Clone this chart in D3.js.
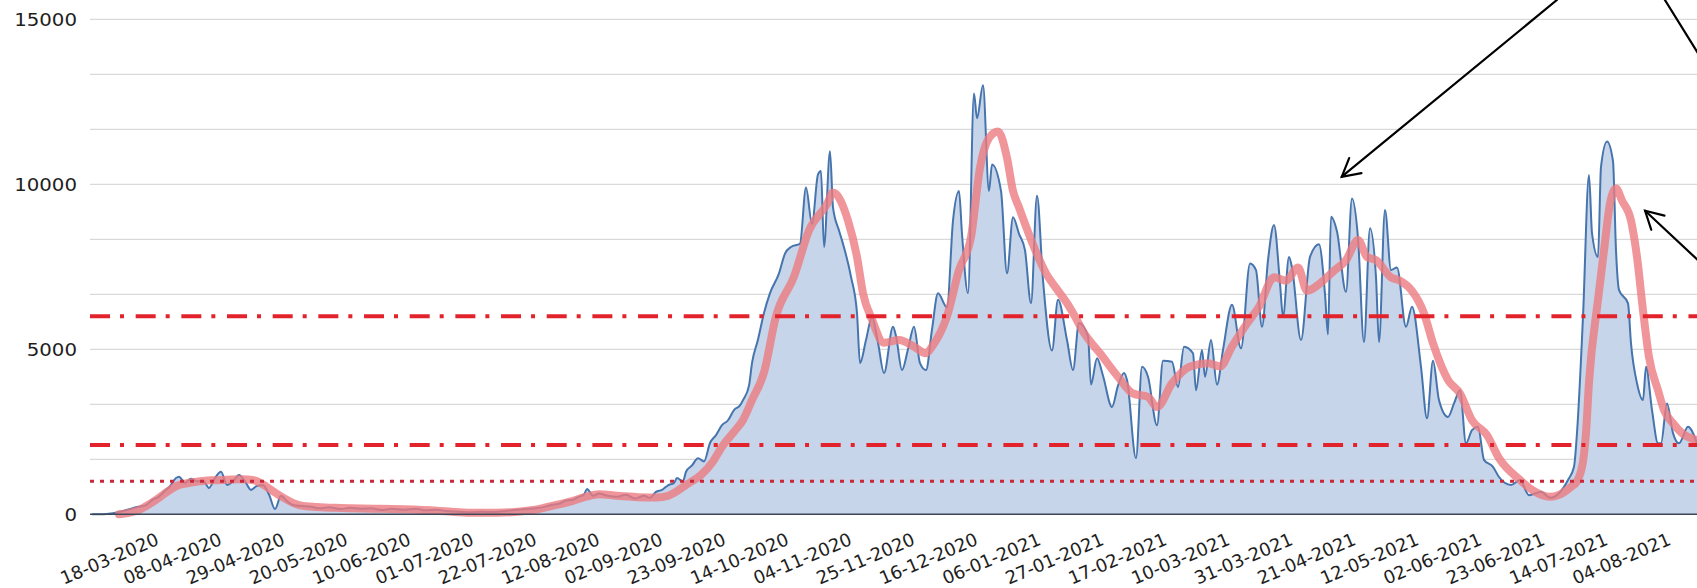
<!DOCTYPE html>
<html>
<head>
<meta charset="utf-8">
<script src="https://cdn.jsdelivr.net/npm/d3@7"></script>
<style>
  html, body { margin: 0; padding: 0; background: #ffffff; overflow: hidden; }
  svg { display: block; }
</style>
</head>
<body>
<svg id="chart" width="1697" height="588"></svg>
<script>
// ---------------- DATA ----------------
const startDate = "2020-02-27";          // day 0 of the series
const endDay = 535;                       // last visible day (right edge)

// x-axis tick labels (every 21 days)
const tickLabels = ["18-03-2020","08-04-2020","29-04-2020","20-05-2020","10-06-2020","01-07-2020",
  "22-07-2020","12-08-2020","02-09-2020","23-09-2020","14-10-2020","04-11-2020","25-11-2020",
  "16-12-2020","06-01-2021","27-01-2021","17-02-2021","10-03-2021","31-03-2021","21-04-2021",
  "12-05-2021","02-06-2021","23-06-2021","14-07-2021","04-08-2021"];

// y-axis tick labels
const yTickValues = [0, 5000, 10000, 15000];
const yGridStep = 5000 / 3;

// daily new cases: [day offset from startDate, value]
const dailyCases = [
  [0,0],[4,5],[7,30],[10,90],[13,170],[15,220],[18,280],[20,430],[22,520],[24,680],[26,850],[28,1100],
  [29,1140],[31,950],[33,1080],[35,1000],[37,1020],[39,800],[41,1100],[43,1290],[45,890],[47,1000],
  [49,1190],[51,1000],[53,740],[55,860],[57,890],[59,600],[61,160],[63,560],[65,400],[67,280],[70,250],
  [73,230],[76,180],[79,210],[83,160],[86,200],[90,170],[93,180],[97,130],[100,170],[104,140],[108,170],
  [111,120],[115,140],[118,100],[122,80],[126,60],[130,75],[134,70],[138,100],[142,140],[146,170],
  [150,210],[153,280],[156,330],[158,420],[160,430],[162,520],[164,600],[165,770],[167,560],[169,630],
  [172,560],[175,530],[178,590],[181,480],[184,560],[186,500],[188,680],[190,740],[192,880],[194,950],
  [195,1100],[197,1000],[198,1290],[200,1480],[202,1700],[204,1600],[206,2160],[208,2400],[210,2700],
  [212,2850],[214,3160],[216,3300],[217,3460],[219,3900],[220,4580],[222,5300],[224,6100],[226,6700],
  [229,7300],[231,7900],[233,8100],[236,8200],[238,9900],[240,8800],[242,10300],[243,10400],[244,8100],
  [246,11000],[247,9300],[249,8600],[250,8300],[253,7200],[255,6100],[256,4580],[258,5280],[260,5980],
  [262,5200],[264,4280],[267,5680],[268,5400],[270,4370],[272,5000],[274,5680],[276,4580],[278,4370],
  [280,5600],[282,6700],[285,6270],[287,8900],[289,9800],[290,8500],[292,6700],[294,12750],[295,12000],
  [297,13000],[299,9800],[300,10600],[303,9800],[305,7300],[307,9000],[309,8500],[311,8000],[313,6400],
  [315,9650],[317,7100],[320,4960],[322,6500],[325,5280],[327,4370],[329,5800],[332,5400],[333,3930],
  [335,4730],[337,4200],[340,3250],[342,3900],[344,4280],[345,4070],[348,1700],[350,4470],[352,4170],
  [355,2700],[357,4650],[360,4620],[362,3860],[364,5080],[367,4880],[368,3760],[370,4980],[371,4170],
  [373,5280],[375,3930],[377,4980],[380,6350],[383,5030],[386,7600],[388,7400],[390,5680],[392,7700],
  [394,8770],[396,7000],[397,5990],[399,7800],[400,7480],[403,5280],[406,7800],[409,8180],[411,6670],
  [412,5450],[413,9020],[415,8570],[418,6740],[420,9570],[422,8370],[424,5220],[426,8670],[428,7180],
  [429,5220],[431,9220],[433,7400],[435,7480],[438,5680],[440,6290],[443,4470],[445,2910],[447,4650],
  [449,3460],[452,2950],[454,3360],[456,3760],[458,2150],[460,2550],[462,2650],[464,1650],[467,1440],
  [469,1130],[473,890],[476,1040],[479,580],[483,680],[486,500],[489,640],[492,1040],[494,1440],
  [495,2470],[497,5990],[499,10280],[500,8520],[502,7800],[503,10530],[505,11300],[507,10700],
  [508,8000],[509,6800],[512,6390],[513,5180],[515,3970],[517,3460],[518,4470],[520,3160],[522,2150],
  [523,2150],[525,3360],[527,2460],[529,2150],[532,2650],[535,2150]
];

// moving average: [day offset, value]
const movingAverage = [
  [9,0],[13,60],[16,150],[19,300],[22,480],[25,680],[28,850],[31,930],[35,990],[40,1030],[45,1050],
  [50,1060],[54,1030],[57,900],[60,720],[64,490],[69,280],[75,220],[83,190],[95,170],[104,150],[115,110],
  [125,50],[135,50],[147,130],[153,250],[160,400],[165,540],[169,610],[175,560],[182,520],[188,510],
  [192,560],[195,700],[198,890],[203,1190],[207,1600],[210,2050],[214,2500],[217,2860],[220,3460],
  [224,4300],[228,6000],[234,7200],[239,8600],[245,9400],[247,9750],[252,8900],[255,7800],[257,6700],
  [260,5900],[264,5200],[269,5280],[274,5080],[278,4880],[280,5080],[285,6000],[289,7400],[293,8400],
  [296,10500],[299,11400],[302,11600],[305,10800],[307,9800],[309,9300],[314,8100],[318,7300],[321,6900],
  [325,6400],[327,6100],[331,5450],[336,4880],[342,4170],[347,3660],[352,3560],[355,3250],[360,3970],
  [366,4480],[372,4580],[376,4480],[380,5080],[385,5780],[389,6290],[394,7180],[398,7080],[402,7480],
  [405,6770],[409,6970],[414,7380],[418,7700],[422,8310],[425,7800],[428,7700],[433,7180],[436,7080],
  [440,6770],[444,6090],[447,5180],[452,4070],[456,3660],[460,2850],[465,2400],[469,1700],[476,1040],
  [480,740],[486,530],[489,590],[493,830],[495,1000],[497,1600],[498,2470],[499,4000],[502,6500],
  [504,8000],[506,9420],[508,9870],[510,9510],[513,8900],[515,7800],[517,6180],[519,4760],[522,3760],
  [524,3160],[527,2760],[530,2460],[535,2250]
];

// horizontal threshold lines
const thresholdValues = [6000, 2100, 1000];
const thresholdKinds  = ["dashdot", "dashdot", "dotted"];

// annotation arrows: [tail day, tail value, tip day, tip value, hasHead]
const arrowDefs = [
  [488.3, 15585, 416.6, 10230, true],
  [524.3, 15585, 545.7, 12451, false],
  [545.7, 6818, 517.7, 9199, true]
];

// ---------------- CHART ----------------
const W = 1697, H = 588;
const svg = d3.select("#chart");
const parse = d3.timeParse("%Y-%m-%d");
const parseLabel = d3.timeParse("%d-%m-%Y");
const t0 = parse(startDate);
const dayToDate = d => new Date(t0.getTime() + d * 86400000);

const plotLeft = 90;
const x = d3.scaleTime()
  .domain([t0, dayToDate(endDay)])
  .range([92, 1697]);
const y = d3.scaleLinear().domain([0, 15000]).range([514.3, 19.3]);

const font = "'DejaVu Sans', Verdana, sans-serif";

// gridlines
const gridVals = d3.range(1, 10).map(i => i * yGridStep);
svg.append("g").selectAll("line").data(gridVals).join("line")
  .attr("x1", plotLeft).attr("x2", W)
  .attr("y1", d => y(d)).attr("y2", d => y(d))
  .attr("stroke", "#d9d9d9").attr("stroke-width", 1.3);

// area + line of daily cases
const area = d3.area()
  .x(d => x(dayToDate(d[0])))
  .y0(y(0)).y1(d => y(d[1]))
  .curve(d3.curveMonotoneX);
const line = d3.line()
  .x(d => x(dayToDate(d[0])))
  .y(d => y(d[1]))
  .curve(d3.curveMonotoneX);

svg.append("path").datum(dailyCases)
  .attr("d", area).attr("fill", "#c6d5ea");
svg.append("path").datum(dailyCases)
  .attr("d", line).attr("fill", "none")
  .attr("stroke", "#4674ad").attr("stroke-width", 2)
  .attr("stroke-linejoin", "round");

// moving average
svg.append("path").datum(movingAverage)
  .attr("d", line).attr("fill", "none")
  .attr("stroke", "#ec7a80").attr("stroke-opacity", 0.8)
  .attr("stroke-width", 8).attr("stroke-linejoin", "round").attr("stroke-linecap", "round");

// baseline axis
svg.append("line")
  .attr("x1", plotLeft).attr("x2", W)
  .attr("y1", y(0)).attr("y2", y(0))
  .attr("stroke", "#3d4756").attr("stroke-width", 1.6);

// threshold lines
svg.append("g").selectAll("line").data(thresholdValues).join("line")
  .attr("x1", plotLeft).attr("x2", W)
  .attr("y1", d => y(d)).attr("y2", d => y(d))
  .attr("stroke", (d, i) => thresholdKinds[i] === "dotted" ? "#c8283a" : "#e3232b")
  .attr("stroke-width", (d, i) => thresholdKinds[i] === "dotted" ? 3 : 4)
  .attr("stroke-dasharray", (d, i) => thresholdKinds[i] === "dotted" ? "4,6" : "20,10,4,11.67");

// y-axis labels
svg.append("g").selectAll("text").data(yTickValues).join("text")
  .attr("transform", d => `translate(77,${y(d)}) scale(1.13,1)`)
  .attr("dy", "0.36em")
  .attr("text-anchor", "end")
  .attr("font-family", font).attr("font-size", 17.5)
  .attr("fill", "#1e1e1e")
  .text(d => d);

// x-axis labels
svg.append("g").selectAll("text").data(tickLabels).join("text")
  .attr("transform", d => `translate(${x(parseLabel(d)) + 8},544) rotate(-23)`)
  .attr("text-anchor", "end")
  .attr("font-family", font).attr("font-size", 18)
  .attr("fill", "#1e1e1e")
  .text(d => d);

// arrows
const ag = svg.append("g").attr("stroke", "#000").attr("stroke-width", 2.2).attr("fill", "none")
  .attr("stroke-linecap", "round");
arrowDefs.forEach(([td, tv, hd, hv, head]) => {
  const x1 = x(dayToDate(td)), y1 = y(tv), x2 = x(dayToDate(hd)), y2 = y(hv);
  ag.append("line").attr("x1", x1).attr("y1", y1).attr("x2", x2).attr("y2", y2);
  if (head) {
    const ang = Math.atan2(y1 - y2, x1 - x2);
    const len = 20, spread = 29 * Math.PI / 180;
    const pts = [ang - spread, ang + spread].map(a => [x2 + len * Math.cos(a), y2 + len * Math.sin(a)]);
    ag.append("path").attr("d", `M${pts[0][0]},${pts[0][1]}L${x2},${y2}L${pts[1][0]},${pts[1][1]}`)
      .attr("stroke-linejoin", "miter");
  }
});
</script>
</body>
</html>
